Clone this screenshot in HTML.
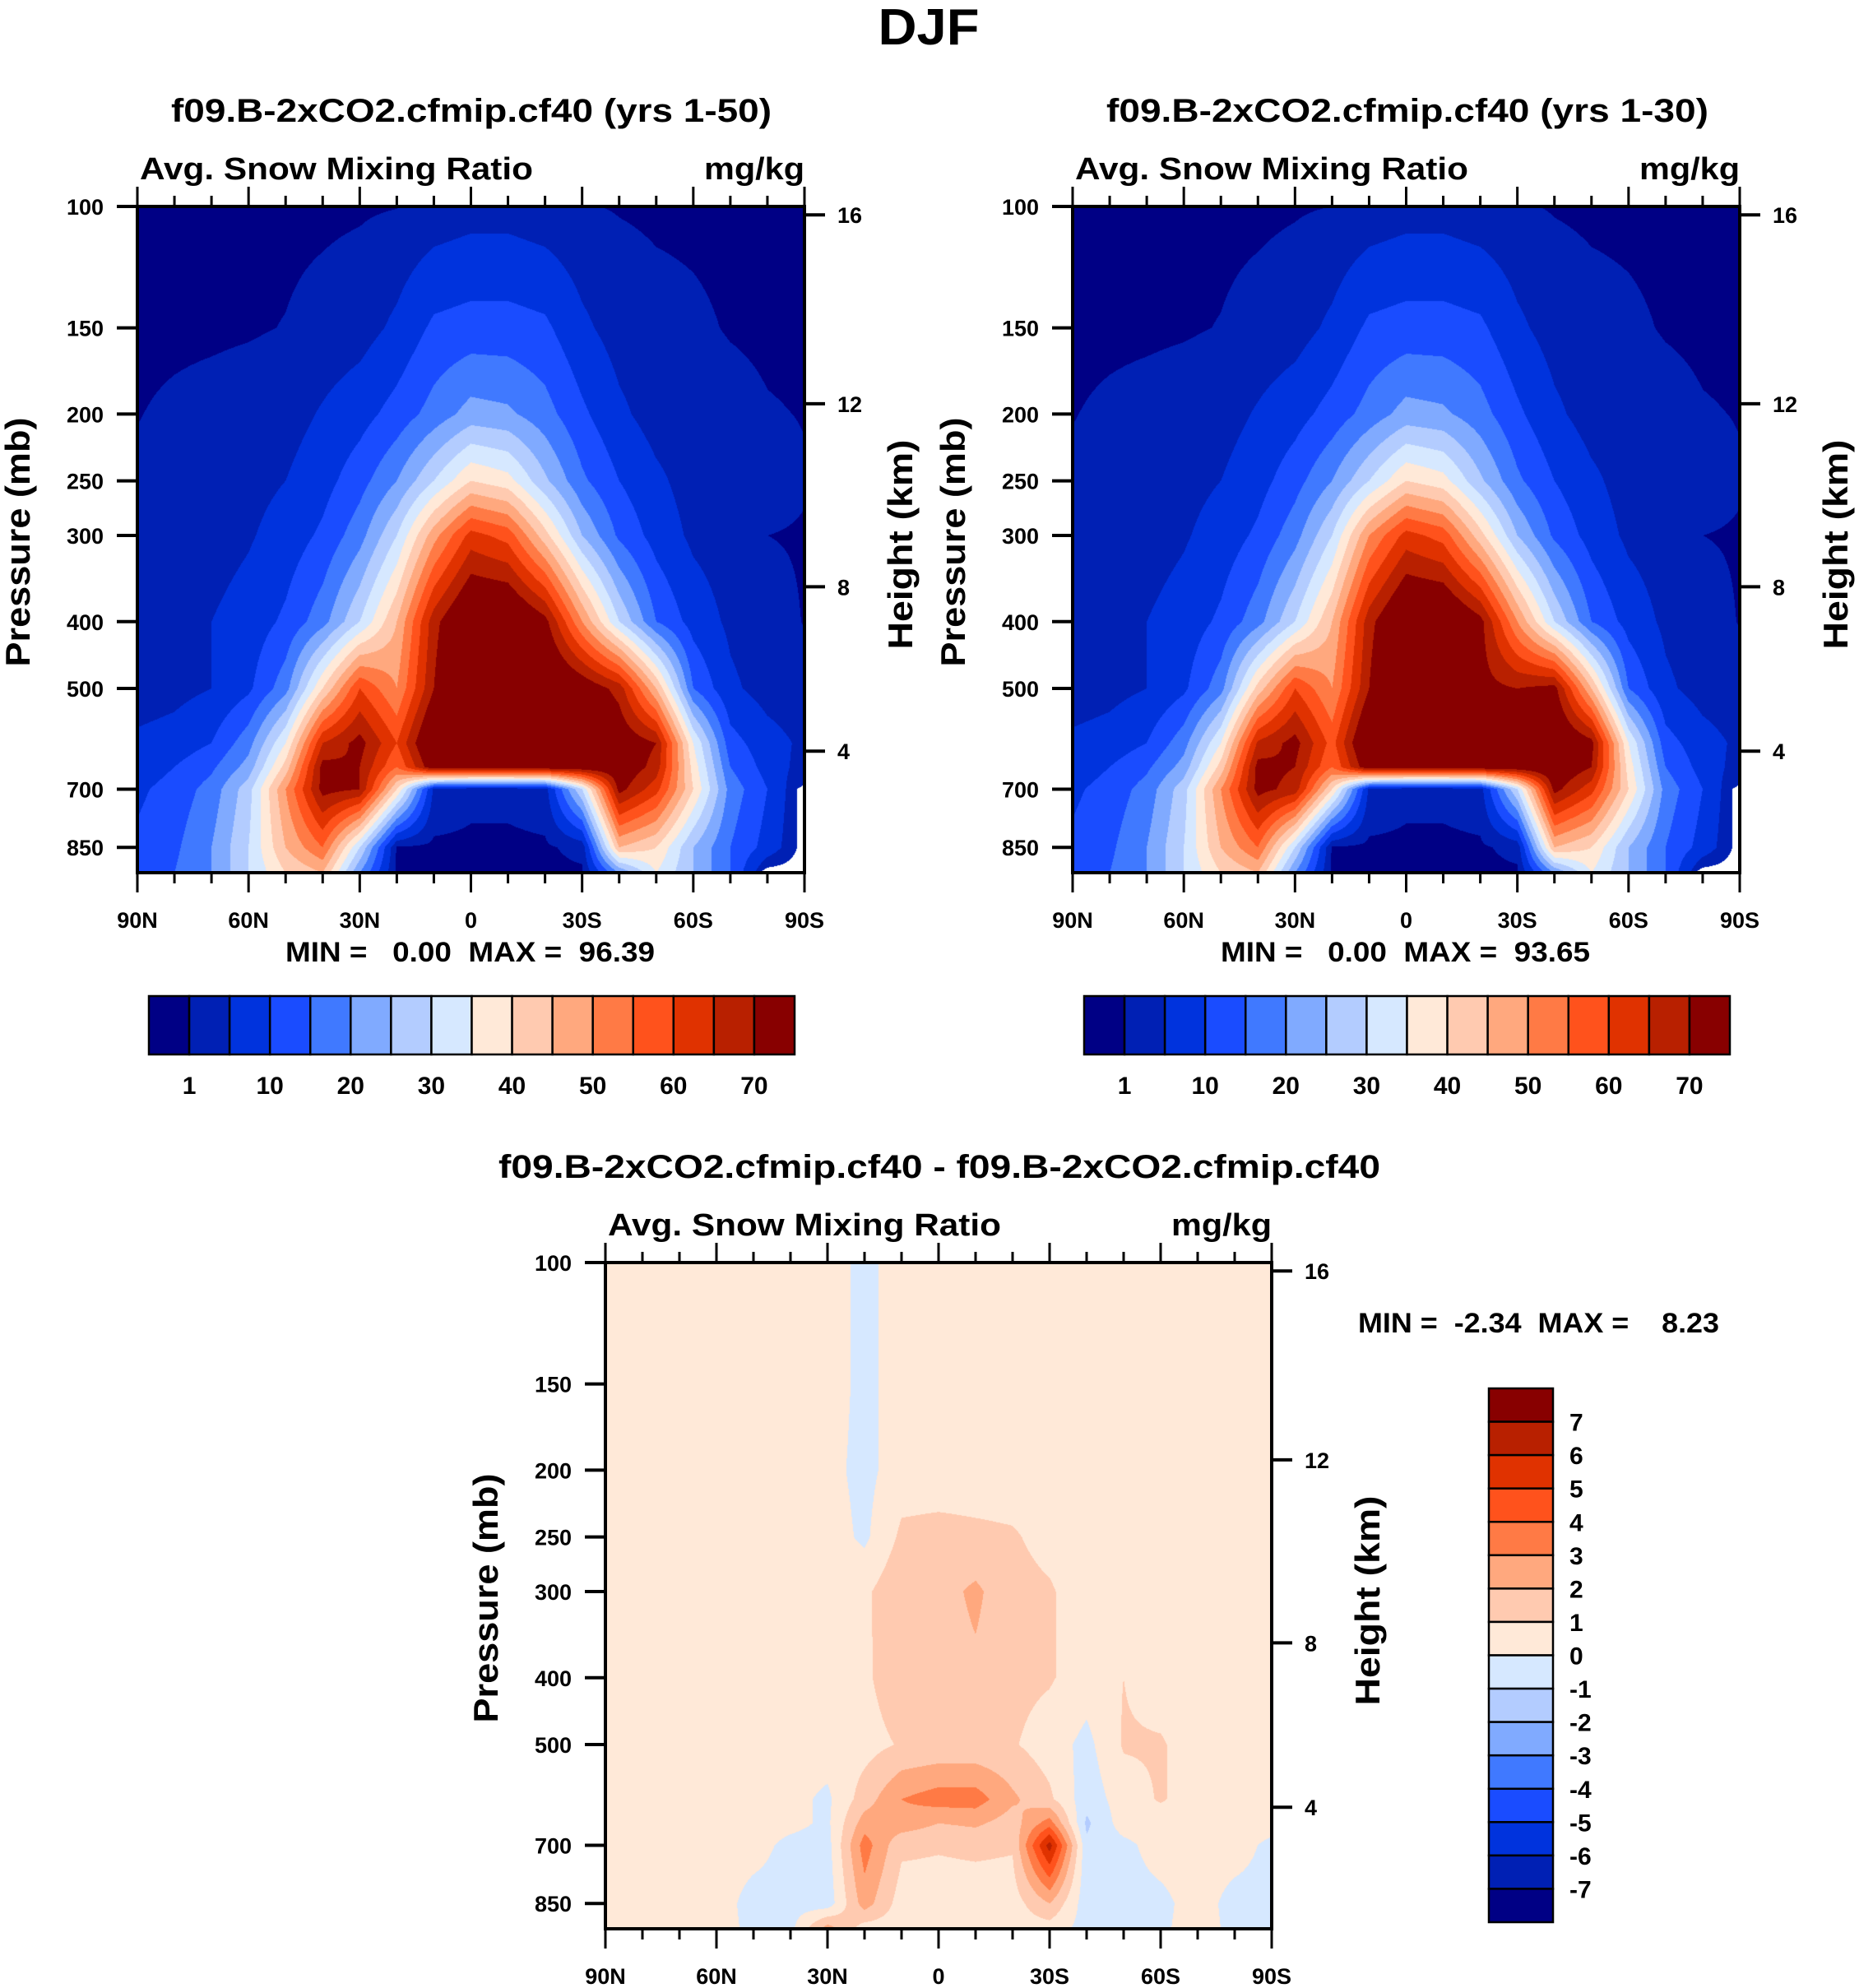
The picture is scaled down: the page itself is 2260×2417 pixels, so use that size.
<!DOCTYPE html>
<html><head><meta charset="utf-8">
<style>
html,body{margin:0;padding:0;background:#fff;}
#wrap{position:relative;width:2260px;height:2417px;overflow:hidden;background:#fff;}
canvas{position:absolute;}
svg{position:absolute;left:0;top:0;}
text{font-family:"Liberation Sans",Arial,sans-serif;font-weight:bold;fill:#000;}
</style></head>
<body>
<div id="wrap">
<canvas id="c1"></canvas>
<canvas id="c2"></canvas>
<canvas id="c3"></canvas>
<svg id="chart" width="2260" height="2417"></svg>
</div>
<script>
// ---- data ----
const lats = [90,80,70,60,50,40,30,20,10,0,-10,-20,-30,-40,-50,-60,-70,-80,-90];
const levels = [100,150,200,250,300,400,500,600,650,700,850,925];
const fieldA = [
 [0.3,0.3,0.3,0.3,0.3,0.4,0.6,0.9,2,3,3,2,1.2,0.8,0.5,0.4,0.3,0.3,0.3],
 [0.3,0.4,0.5,0.7,1.1,2,3,6,11,12,12,11,6,3,2,1.5,0.8,0.5,0.4],
 [0.9,1.5,2,2.5,3,5.5,8,12,17,22,21,17,11,6,3,2.5,2,1.2,0.9],
 [1.5,2,2.5,3.5,5,8,13,20,30,40,37,26,16,10,6,3,2.5,2,1.2],
 [1.5,2,3,4.5,7,11,18,30,48,62,58,42,25,14,8,4,2.5,1,0.8],
 [2,3,5,7,11,18,30,45,68,80,80,72,50,30,15,8,4,2,0.9],
 [2.5,3.5,5,9,18,40,60,50,70,85,85,80,75,68,45,15,6,3,2],
 [6,7,10,18,35,65,72,60,80,90,90,85,80,75,70,35,12,7,4],
 [7,10,14,22,42,72,70,55,75,75,75,75,75,75,68,38,15,8,3],
 [9,12,17,28,50,72,70,40,4,2,2,3,30,72,62,40,18,10,-1],
 [11,14,20,30,45,55,30,0.5,0.3,0.3,0.3,0.5,2,45,40,25,15,8,-1],
 [12,15,20,30,40,45,20,0.3,0.2,0.2,0.2,0.3,0.5,20,35,25,15,-1,-1]
];
const fieldB = [
 [0.3,0.3,0.3,0.3,0.3,0.4,0.7,1,2,3,3,2,1.3,0.8,0.5,0.4,0.3,0.3,0.3],
 [0.3,0.4,0.5,0.7,1.1,2,3,6,11,12,12,11,6,3,2,1.5,0.8,0.5,0.4],
 [0.9,1.5,2,2.5,3,5.5,8,12,17,22,21,17,11,6,3,2.5,2,1.2,0.9],
 [1.5,2,2.5,3.5,5,8,13,20,30,40,37,26,16,10,6,3,2.5,2,1.2],
 [1.5,2,3,4.5,7,11,18,30,50,62,58,42,25,14,8,4,2.5,1,0.8],
 [2,3,5,7,11,18,30,45,68,80,80,72,50,30,15,8,4,2,0.9],
 [2.5,3.5,5,9,18,42,60,50,70,85,82,72,70,72,45,15,6,3,2],
 [6,7,10,18,35,66,72,58,80,88,88,82,72,78,72,35,12,7,4],
 [7,10,14,22,42,72,70,55,75,75,75,75,75,76,70,38,15,8,3],
 [9,12,17,28,50,72,68,40,4,2,2,3,30,72,62,40,18,10,-1],
 [11,14,20,30,45,55,30,0.5,0.3,0.3,0.3,0.5,2,45,40,25,15,8,-1],
 [12,15,20,30,40,45,20,0.3,0.2,0.2,0.2,0.3,0.5,20,35,25,15,-1,-1]
];
const fieldD = [
 [0.5,0.5,0.5,0.5,0.5,0.5,0.5,-0.3,0.5,0.5,0.5,0.5,0.5,0.5,0.5,0.5,0.5,0.5,0.5],
 [0.5,0.5,0.5,0.5,0.5,0.5,0.5,-0.3,0.5,0.5,0.5,0.5,0.5,0.5,0.5,0.5,0.5,0.5,0.5],
 [0.5,0.5,0.5,0.5,0.5,0.5,0.3,-0.3,0.5,0.5,0.5,0.5,0.5,0.5,0.5,0.5,0.5,0.5,0.5],
 [0.5,0.5,0.5,0.5,0.5,0.5,0.5,-0.2,1.2,1.3,1.2,1.1,0.7,0.5,0.5,0.5,0.5,0.5,0.5],
 [0.3,0.5,0.5,0.5,0.5,0.5,0.5,0.8,1.8,1.6,2.2,1.3,1.1,0.5,0.5,0.5,0.5,0.5,0.5],
 [0.5,0.5,0.5,0.5,0.5,0.5,0.5,0.8,1.7,1.5,1.8,1.3,1.1,0.5,1.0,0.5,0.5,0.5,0.5],
 [0.5,0.5,0.5,0.5,0.5,0.5,0.5,0.6,1.1,1.2,1.2,1.1,0.5,-0.3,1.1,1.1,0.5,0.5,0.5],
 [0.5,0.5,0.5,0.5,0.5,0.3,-0.2,1.5,3.0,3.5,3.5,2.2,1.2,-0.6,0.5,1.1,0.5,0.5,0.5],
 [0.5,0.5,0.5,0.5,0.5,0.3,-0.2,2.5,2.6,2.0,2.2,1.5,3.5,-1.2,0.5,0.5,0.5,0.5,0.5],
 [0.5,0.5,0.5,0.5,0.4,-0.3,-0.4,3.5,1.2,1.1,1.2,1.1,6.5,-0.8,-0.3,0.5,0.5,0.5,-0.3],
 [0.5,0.5,0.5,0.5,-0.4,-0.4,-0.6,2.5,0.5,0.5,0.5,0.5,2.0,-0.6,-0.4,-0.3,0.5,-0.4,-0.4],
 [0.5,0.5,0.5,0.5,-0.3,-0.3,2.5,0.5,0.5,0.5,0.5,0.5,0.5,-0.4,-0.3,-0.2,0.5,-0.3,-0.3]
];
const mainThresh = [1,5,10,15,20,25,30,35,40,45,50,55,60,65,70];
const mainLabels = ["1","10","20","30","40","50","60","70"];
const diffThresh = [-7,-6,-5,-4,-3,-2,-1,0,1,2,3,4,5,6,7];
const diffLabels = ["7","6","5","4","3","2","1","0","-1","-2","-3","-4","-5","-6","-7"];
const palette = ["#000085","#0020b4","#0033dd","#1a4cff","#4079ff","#80aaff","#b3ccff","#d6e8ff","#ffe9d8","#ffcab0","#ffa87e","#ff7a45","#ff521c","#e03200","#b82000","#880000"];
const pTicks = [100,150,200,250,300,400,500,700,850];
const zTicks = [16,12,8,4];
const latTickVals = [90,60,30,0,-30,-60,-90];
const latTickLabels = ["90N","60N","30N","0","30S","60S","90S"];

// ---- geometry ----
const PTOP=100, PBOT=925;
const panels = [
 {id:'c1', L:167, T:251, W:811, H:810, f:fieldA, th:mainThresh, name:'left'},
 {id:'c2', L:1304, T:251, W:811, H:810, f:fieldB, th:mainThresh, name:'right'},
 {id:'c3', L:736, T:1535, W:810, H:810, f:fieldD, th:diffThresh, name:'diff'}
];
function xOf(P,lat){return P.L+(90-lat)/180*P.W;}
function yOf(P,p){return P.T+Math.log(p/PTOP)/Math.log(PBOT/PTOP)*P.H;}
function pOfZ(z){return z<11?1013.25*Math.pow(1-z*6.5/288.15,5.255):226.3*Math.exp(-(z-11)/6.34);}

function drawField(P){
  const c=document.getElementById(P.id);
  c.width=P.W;c.height=P.H;c.style.left=P.L+'px';c.style.top=P.T+'px';
  const ctx=c.getContext('2d');
  const img=ctx.createImageData(P.W,P.H);
  const rgb=palette.map(h=>[parseInt(h.substr(1,2),16),parseInt(h.substr(3,2),16),parseInt(h.substr(5,2),16)]);
  const lnl=levels.map(v=>Math.log(v));
  for(let j=0;j<P.H;j++){
    const lp=Math.log(PTOP)+(j+0.5)/P.H*Math.log(PBOT/PTOP);
    let k=0; while(k<levels.length-2 && lp>lnl[k+1]) k++;
    let ty=(lp-lnl[k])/(lnl[k+1]-lnl[k]); ty=Math.max(0,Math.min(1,ty));
    for(let i=0;i<P.W;i++){
      const fi=(i+0.5)/P.W*(lats.length-1);
      let a=Math.min(lats.length-2,Math.floor(fi)); const tx=fi-a;
      const g=(r,cc)=>P.f[r][cc];
      const v00=g(k,a),v01=g(k,a+1),v10=g(k+1,a),v11=g(k+1,a+1);
      const m=(v=>v===-1?1:0);
      const mask=(m(v00)*(1-tx)+m(v01)*tx)*(1-ty)+(m(v10)*(1-tx)+m(v11)*tx)*ty;
      const cl=(v=>v===-1?0:v);
      const val=(cl(v00)*(1-tx)+cl(v01)*tx)*(1-ty)+(cl(v10)*(1-tx)+cl(v11)*tx)*ty;
      const o=(j*P.W+i)*4;
      if(P.name!=='diff' && mask>0.8){img.data[o]=255;img.data[o+1]=255;img.data[o+2]=255;img.data[o+3]=255;continue;}
      let ci=0; while(ci<P.th.length && val>=P.th[ci]) ci++;
      const col=rgb[ci];
      img.data[o]=col[0];img.data[o+1]=col[1];img.data[o+2]=col[2];img.data[o+3]=255;
    }
  }
  ctx.putImageData(img,0,0);
}
panels.forEach(drawField);

// ---- svg overlay ----
const NS='http://www.w3.org/2000/svg';
const svg=document.getElementById('chart');
function mk(tag,attrs,parent){const e=document.createElementNS(NS,tag);for(const k in attrs)e.setAttribute(k,attrs[k]);(parent||svg).appendChild(e);return e;}
function txt(x,y,s,size,anchor,len){const t=mk('text',{x:x,y:y,'font-size':size,'text-anchor':anchor||'start'});if(len){t.setAttribute('textLength',len);t.setAttribute('lengthAdjust','spacingAndGlyphs');}t.textContent=s;return t;}

let el=txt(1129,54,'DJF',62,'middle',123);



const titles=[
 {P:panels[0],main:'f09.B-2xCO2.cfmip.cf40 (yrs 1-50)',mx:208,mw:730,my:148,minmax:'MIN =   0.00  MAX =  96.39'},
 {P:panels[1],main:'f09.B-2xCO2.cfmip.cf40 (yrs 1-30)',mx:1345,mw:732,my:148,minmax:'MIN =   0.00  MAX =  93.65'},
 {P:panels[2],main:'f09.B-2xCO2.cfmip.cf40 - f09.B-2xCO2.cfmip.cf40',mx:606,mw:1072,my:1432,minmax:null}
];
titles.forEach((t,n)=>{
  const P=t.P;
  const g=mk('g',{});
  
  
  let e=txt(t.mx,t.my,t.main,40,'start',t.mw);g.appendChild(e);
  
  
  e=txt(P.L+3,P.T-33,'Avg. Snow Mixing Ratio',38,'start',478);g.appendChild(e);
  
  
  e=txt(P.L+P.W,P.T-33,'mg/kg',38,'end',122);g.appendChild(e);
  
  
  e=mk('rect',{x:P.L,y:P.T,width:P.W,height:P.H,fill:'none',stroke:'#000','stroke-width':4},g);
  
  
  for(let lat=90;lat>=-90;lat-=10){
    const x=xOf(P,lat);const major=(lat%30===0);const len=major?24:13;
    e=mk('line',{x1:x,x2:x,y1:P.T,y2:P.T-len,stroke:'#000','stroke-width':3},g);
    
    
    e=mk('line',{x1:x,x2:x,y1:P.T+P.H,y2:P.T+P.H+len,stroke:'#000','stroke-width':3},g);
    
    
  }
  latTickVals.forEach((lat,i)=>{
    e=txt(xOf(P,lat),P.T+P.H+67,latTickLabels[i],27,'middle');g.appendChild(e);
    
    
  });
  pTicks.forEach(p=>{
    const y=yOf(P,p);
    e=mk('line',{x1:P.L,x2:P.L-25,y1:y,y2:y,stroke:'#000','stroke-width':4},g);
    
    
    e=txt(P.L-41,y+10,String(p),27,'end');g.appendChild(e);
    
    
  });
  zTicks.forEach(z=>{
    const y=yOf(P,pOfZ(z));
    e=mk('line',{x1:P.L+P.W,x2:P.L+P.W+25,y1:y,y2:y,stroke:'#000','stroke-width':4},g);
    
    
    e=txt(P.L+P.W+40,y+10,String(z),27,'start');g.appendChild(e);
    
    
  });
  const cy=P.T+P.H/2+3;
  e=txt(0,0,'Pressure (mb)',42,'middle',303);g.appendChild(e);
  e.setAttribute('transform','translate('+(P.L-131)+','+cy+') rotate(-90)');
  
  
  e=txt(0,0,'Height (km)',42,'middle',255);g.appendChild(e);
  e.setAttribute('transform','translate('+(P.L+P.W+131)+','+(cy+3)+') rotate(-90)');
  
  
  if(t.minmax){
    e=txt(P.L+P.W/2-1,P.T+P.H+108,t.minmax,34,'middle',449);g.appendChild(e);
    e.setAttribute('style','white-space:pre');
    e.setAttribute('xml:space','preserve');
    
    
    const bx=P.L+14, bw=785, by=1211, bh=71, cw=bw/palette.length;
    palette.forEach((c,i)=>{
      e=mk('rect',{x:bx+i*cw,y:by,width:cw,height:bh,fill:c,stroke:'#000','stroke-width':2.5},g);
      
      
    });
    mainLabels.forEach((s,i)=>{
      e=txt(bx+(1+2*i)*cw,1330,s,30,'middle');g.appendChild(e);
      
      
    });
  }
});
el=txt(1651,1620,'MIN =  -2.34  MAX =    8.23',34,'start',439);
el.setAttribute('xml:space','preserve');
el.setAttribute('style','white-space:pre');


{
  const bx=1810,bw=78,by=1688,bh=649,ch=bh/palette.length;
  for(let i=0;i<palette.length;i++){
    el=mk('rect',{x:bx,y:by+i*ch,width:bw,height:ch,fill:palette[palette.length-1-i],stroke:'#000','stroke-width':2.5});
    
    
  }
  diffLabels.forEach((s,i)=>{
    el=txt(1908,by+(i+1)*ch+11,s,30,'start');
    
    
  });
}
</script>
</body></html>
